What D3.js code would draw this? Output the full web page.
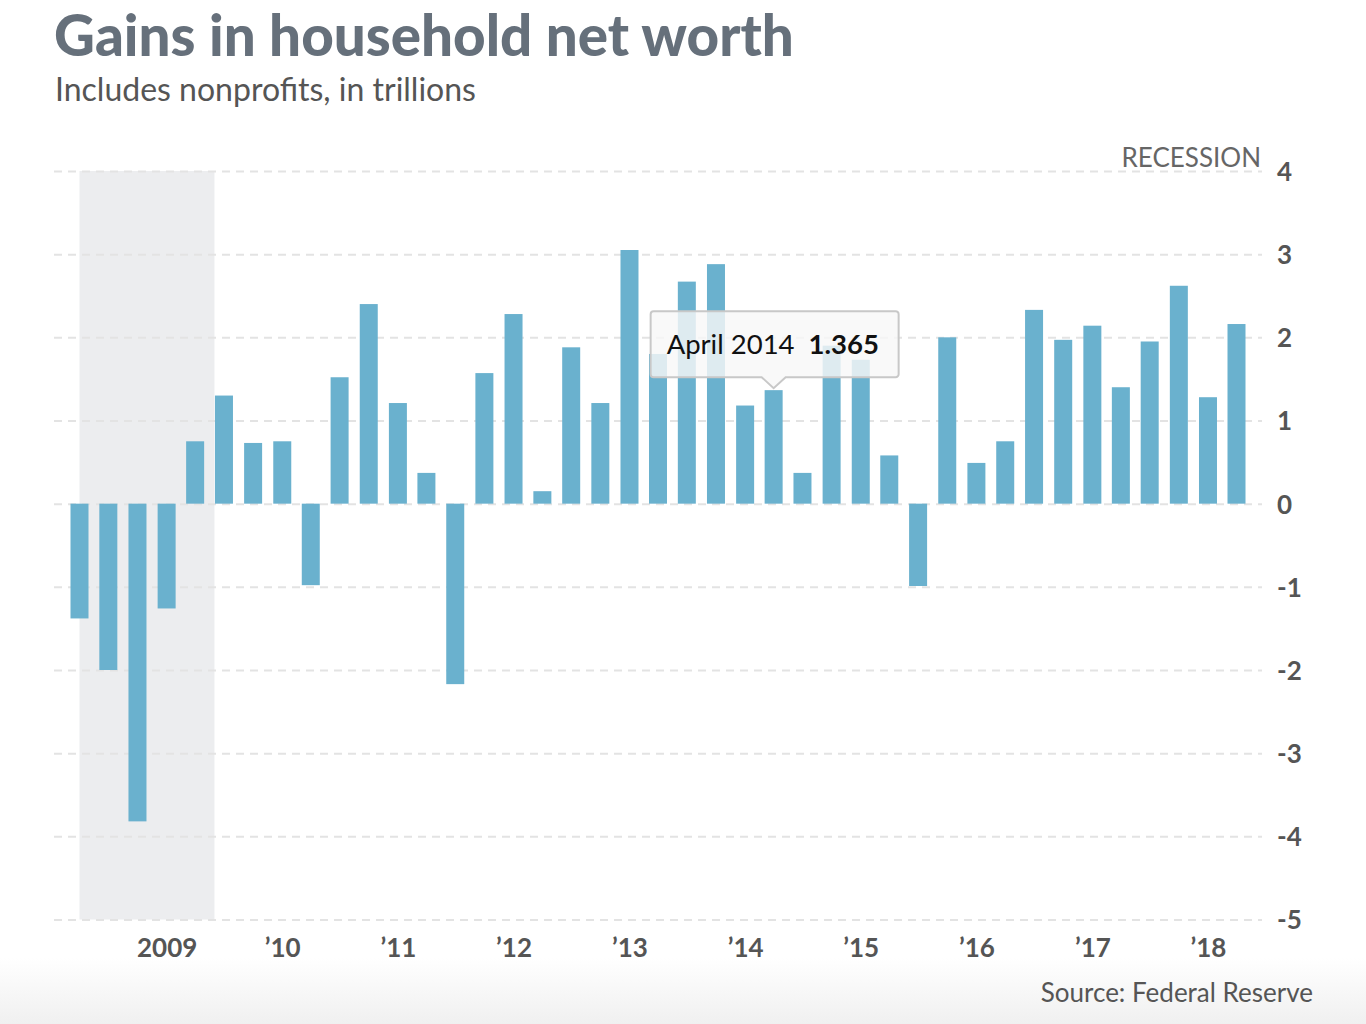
<!DOCTYPE html>
<html>
<head>
<meta charset="utf-8">
<script src="https://cdn.jsdelivr.net/npm/d3@7"></script>
<style>
  html, body { margin: 0; padding: 0; background: #fff; }
  svg { display: block; font-family: Lato, "Open Sans", sans-serif; }
</style>
</head>
<body>
<svg id="chart" width="1366" height="1024"></svg>
<script>
// ---- data ----
const quarters = [
  "2008-04-01","2008-07-01","2008-10-01",
  "2009-01-01","2009-04-01","2009-07-01","2009-10-01",
  "2010-01-01","2010-04-01","2010-07-01","2010-10-01",
  "2011-01-01","2011-04-01","2011-07-01","2011-10-01",
  "2012-01-01","2012-04-01","2012-07-01","2012-10-01",
  "2013-01-01","2013-04-01","2013-07-01","2013-10-01",
  "2014-01-01","2014-04-01","2014-07-01","2014-10-01",
  "2015-01-01","2015-04-01","2015-07-01","2015-10-01",
  "2016-01-01","2016-04-01","2016-07-01","2016-10-01",
  "2017-01-01","2017-04-01","2017-07-01","2017-10-01",
  "2018-01-01","2018-04-01"
];
const gains = [
  -1.38, -2.00, -3.82,
  -1.26, 0.75, 1.30, 0.73,
  0.75, -0.98, 1.52, 2.40,
  1.21, 0.37, -2.17, 1.57,
  2.28, 0.15, 1.88, 1.21,
  3.05, 1.80, 2.67, 2.88,
  1.18, 1.365, 0.37, 1.90,
  1.73, 0.58, -0.99, 2.00,
  0.49, 0.75, 2.33, 1.97,
  2.14, 1.40, 1.95, 2.62,
  1.28, 2.16
];
const yTicks = [4, 3, 2, 1, 0, -1, -2, -3, -4, -5];
const xTickDates = ["2009-01-01","2010-01-01","2011-01-01","2012-01-01","2013-01-01","2014-01-01","2015-01-01","2016-01-01","2017-01-01","2018-01-01"];
const xTickLabels = ["2009","\u201910","\u201911","\u201912","\u201913","\u201914","\u201915","\u201916","\u201917","\u201918"];
const recession = ["2007-12-01", "2009-06-01"];
const highlightDate = "2014-04-01";

const title = "Gains in household net worth";
const subtitle = "Includes nonprofits, in trillions";
const source = "Source: Federal Reserve";

// ---- setup ----
const parse = d3.utcParse("%Y-%m-%d");
const svg = d3.select("#chart");
const W = 1366, H = 1024;

const defs = svg.append("defs");
const grad = defs.append("linearGradient").attr("id", "bottomFade")
  .attr("x1", 0).attr("y1", 0).attr("x2", 0).attr("y2", 1);
grad.append("stop").attr("offset", "0%").attr("stop-color", "#ffffff");
grad.append("stop").attr("offset", "100%").attr("stop-color", "#f0f0f0");

svg.append("rect").attr("width", W).attr("height", H).attr("fill", "#fff");
svg.append("rect").attr("x", 0).attr("y", 958).attr("width", W).attr("height", H - 958)
  .attr("fill", "url(#bottomFade)");

const data = quarters.map((q, i) => ({ date: parse(q), value: gains[i] }));

const x = d3.scaleUtc()
  .domain([parse(quarters[0]), parse(quarters[quarters.length - 1])])
  .range([79.5, 1236.5]);
const y = d3.scaleLinear().domain([-5, 4]).range([919.5, 171]);

const gridLeft = 54, gridRight = 1262;
const barW = 18;

// recession shading
const recStart = d3.max([parse(recession[0]), x.domain()[0]]);
const recEnd = parse(recession[1]);
svg.append("rect")
  .attr("x", x(recStart))
  .attr("y", y(4))
  .attr("width", x(recEnd) - x(recStart))
  .attr("height", y(-5) - y(4))
  .attr("fill", "#ecedef");

// gridlines
const grid = svg.append("g").attr("transform", `translate(${gridLeft},0)`)
  .call(d3.axisRight(y).tickValues(yTicks).tickSize(gridRight - gridLeft).tickFormat(""));
grid.select(".domain").remove();
grid.selectAll(".tick line")
  .attr("stroke", "#e3e3e3")
  .attr("stroke-width", 2)
  .attr("stroke-dasharray", "8,6");

// y labels
const yAxis = svg.append("g").attr("transform", `translate(1270,0)`)
  .call(d3.axisRight(y).tickValues(yTicks).tickSize(0).tickPadding(7).tickFormat(d => String(d)));
yAxis.select(".domain").remove();
yAxis.selectAll("text")
  .attr("font-family", "Lato, sans-serif")
  .attr("font-size", 26)
  .attr("font-weight", 700)
  .attr("fill", "#555")
  .attr("dy", "0.36em");

// bars
svg.append("g").selectAll("rect")
  .data(data)
  .join("rect")
  .attr("x", d => x(d.date) - barW / 2)
  .attr("y", d => y(Math.max(0, d.value)))
  .attr("width", barW)
  .attr("height", d => Math.abs(y(d.value) - y(0)))
  .attr("fill", "#6ab1ce");

// x labels
const xAxis = svg.append("g").attr("transform", `translate(0,928)`)
  .call(d3.axisBottom(x).tickValues(xTickDates.map(parse)).tickSize(0).tickPadding(0)
    .tickFormat((d, i) => xTickLabels[i]));
xAxis.select(".domain").remove();
xAxis.selectAll("text")
  .attr("font-family", "Lato, sans-serif")
  .attr("font-size", 26)
  .attr("font-weight", 700)
  .attr("fill", "#555")
  .attr("dy", "1.1em");

// recession label
svg.append("text")
  .attr("x", gridRight - 1).attr("y", 167)
  .attr("text-anchor", "end")
  .attr("font-size", 26)
  .attr("fill", "#666")
  .text("RECESSION");

// titles
svg.append("text")
  .attr("x", 54).attr("y", 56)
  .attr("font-size", 56.5)
  .attr("font-weight", 900)
  .attr("fill", "#66707b")
  .text(title);
svg.append("text")
  .attr("x", 55).attr("y", 101)
  .attr("font-size", 32)
  .attr("fill", "#555")
  .text(subtitle);

// source
svg.append("text")
  .attr("x", 1313).attr("y", 1002)
  .attr("text-anchor", "end")
  .attr("font-size", 26)
  .attr("fill", "#555")
  .text(source);

// tooltip
const hd = data.find(d => +d.date === +parse(highlightDate));
const tipX = x(hd.date), tipY = y(hd.value) - 2;
const boxW = 248, boxH = 66, arrow = 12;
const bx = tipX - boxW / 2 + 1, by = tipY - 11 - boxH;
const tip = svg.append("g");
const path = d3.path();
path.moveTo(bx + 3, by);
path.lineTo(bx + boxW - 3, by);
path.arcTo(bx + boxW, by, bx + boxW, by + 3, 3);
path.lineTo(bx + boxW, by + boxH - 3);
path.arcTo(bx + boxW, by + boxH, bx + boxW - 3, by + boxH, 3);
path.lineTo(tipX + arrow, by + boxH);
path.lineTo(tipX, tipY);
path.lineTo(tipX - arrow, by + boxH);
path.lineTo(bx + 3, by + boxH);
path.arcTo(bx, by + boxH, bx, by + boxH - 3, 3);
path.lineTo(bx, by + 3);
path.arcTo(bx, by, bx + 3, by, 3);
path.closePath();
tip.append("path")
  .attr("d", path.toString())
  .attr("fill", "rgba(248,248,248,0.82)")
  .attr("stroke", "#c8c8c8")
  .attr("stroke-width", 2);
const tt = tip.append("text")
  .attr("x", bx + 16).attr("y", by + 43)
  .attr("font-size", 27.5)
  .attr("fill", "#111");
tt.append("tspan").text(d3.utcFormat("%B %Y")(hd.date));
tt.append("tspan").attr("dx", 14).attr("font-weight", 700).text(d3.format(".3f")(hd.value));
</script>
</body>
</html>
